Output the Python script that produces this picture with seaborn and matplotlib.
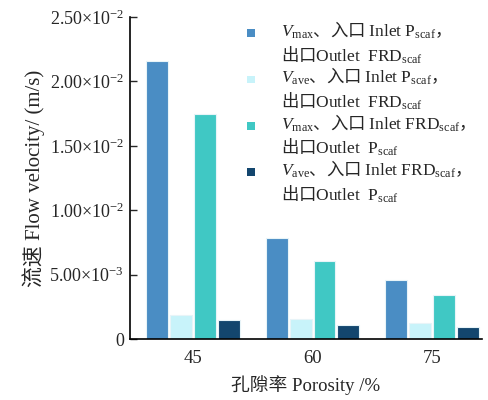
import matplotlib
matplotlib.use("Agg")
import matplotlib.pyplot as plt
import seaborn as sns
import pandas as pd
from matplotlib.ticker import FixedLocator, FixedFormatter
from matplotlib.legend_handler import HandlerPatch
from matplotlib.patches import Rectangle

porosity = ["45", "60", "75"]
series = [
    r"$V_{\mathrm{max}}$、入口 $\mathrm{Inlet\ P_{scaf}}$，" + "\n" + r"出口$\mathrm{Outlet\ \ FRD_{scaf}}$",
    r"$V_{\mathrm{ave}}$、入口 $\mathrm{Inlet\ P_{scaf}}$，" + "\n" + r"出口$\mathrm{Outlet\ \ FRD_{scaf}}$",
    r"$V_{\mathrm{max}}$、入口 $\mathrm{Inlet\ FRD_{scaf}}$，" + "\n" + r"出口$\mathrm{Outlet\ \ P_{scaf}}$",
    r"$V_{\mathrm{ave}}$、入口 $\mathrm{Inlet\ FRD_{scaf}}$，" + "\n" + r"出口$\mathrm{Outlet\ \ P_{scaf}}$",
]
vmax_p_in = [0.02158, 0.00784, 0.00458]
vave_p_in = [0.00186, 0.00153, 0.00124]
vmax_frd_in = [0.01747, 0.00606, 0.00342]
vave_frd_in = [0.00148, 0.00109, 0.00093]
colors = ["#4A8DC4", "#C8F3FA", "#40C8C4", "#13466E"]
yticks = [0, 0.005, 0.010, 0.015, 0.020, 0.025]
ytick_labels = ["0", "5.00×10$^{-3}$", "1.00×10$^{-2}$", "1.50×10$^{-2}$",
                "2.00×10$^{-2}$", "2.50×10$^{-2}$"]

rows = []
for s, vals in zip(series, [vmax_p_in, vave_p_in, vmax_frd_in, vave_frd_in]):
    for p, v in zip(porosity, vals):
        rows.append({"porosity": p, "series": s, "value": v})
df = pd.DataFrame(rows)

sns.set_theme(style="ticks")
plt.rcParams["font.family"] = ["Liberation Serif", "Noto Sans CJK SC"]
plt.rcParams["mathtext.fontset"] = "custom"
plt.rcParams["mathtext.rm"] = "Liberation Serif"
plt.rcParams["mathtext.it"] = "Liberation Serif:italic"
plt.rcParams["mathtext.bf"] = "Liberation Serif:bold"

fig = plt.figure(figsize=(4.88, 4.00), dpi=100)
ax = fig.add_axes([0.266, 0.1525, 0.722, 0.805])
sns.barplot(data=df, x="porosity", y="value", hue="series", hue_order=series,
            order=porosity, palette=colors, saturation=1, width=0.8, gap=0.08,
            edgecolor="#E8F4F8", linewidth=0.8, ax=ax, legend=True)

ax.set_ylim(0, 0.025)
ax.set_xlim(-0.53, 2.42)
ax.yaxis.set_major_locator(FixedLocator(yticks))
ax.yaxis.set_major_formatter(FixedFormatter(ytick_labels))
ax.tick_params(axis="y", direction="in", length=5, width=1, labelsize=13, pad=4)
ax.tick_params(axis="x", length=0, labelsize=13.5, pad=8)
for s in ["top", "right"]:
    ax.spines[s].set_visible(False)
for s in ["left", "bottom"]:
    ax.spines[s].set_linewidth(1.2)
    ax.spines[s].set_color("black")

ax.set_xlabel("孔隙率 Porosity /%", fontsize=13.5, labelpad=6)
ax.set_ylabel("流速 Flow velocity/ (m/s)", fontsize=15, labelpad=3)


def top_square(legend, orig_handle, xdescent, ydescent, width, height, fontsize):
    size = 0.45 * fontsize
    cy = height / 2 - ydescent + 0.6 * fontsize
    return Rectangle((-xdescent, cy - size / 2), size, size)


handles, labels = ax.get_legend_handles_labels()
leg = ax.legend(handles, labels, loc="upper right", bbox_to_anchor=(1.0, 1.04),
                frameon=False, prop={"family": "Noto Sans CJK SC", "size": 12.5},
                handlelength=0.5, handleheight=0.5, handletextpad=1.45,
                labelspacing=0.0,
                handler_map={h: HandlerPatch(patch_func=top_square) for h in handles})
for h in leg.legend_handles:
    h.set_edgecolor("none")

fig.savefig("out.png", dpi=100)
